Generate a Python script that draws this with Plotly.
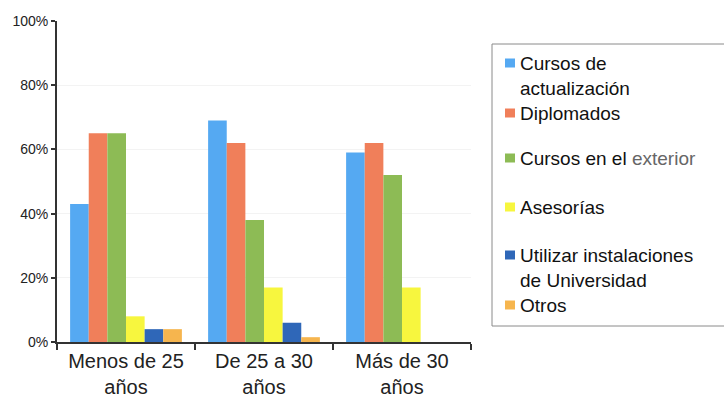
import plotly.graph_objects as go

categories = ["Menos de 25<br>años", "De 25 a 30<br>años", "Más de 30<br>años"]
series_names = [
    "Cursos de actualización",
    "Diplomados",
    "Cursos en el exterior",
    "Asesorías",
    "Utilizar instalaciones de Universidad",
    "Otros",
]
cursos_actualizacion = [43, 69, 59]
diplomados = [65, 62, 62]
cursos_exterior = [65, 38, 52]
asesorias = [8, 17, 17]
instalaciones = [4, 6, 0]
otros = [4, 1.5, 0]
y_ticks = [0, 20, 40, 60, 80, 100]
y_tick_labels = ["0%", "20%", "40%", "60%", "80%", "100%"]

# legend lines as drawn (wrapped), one list per series
legend_lines = [
    ["Cursos de", "actualización"],
    ["Diplomados"],
    ["Cursos en el <span style='color:#666'>exterior</span>"],
    ["Asesorías"],
    ["Utilizar instalaciones", "de Universidad"],
    ["Otros"],
]

colors = ["#55a9f2", "#f07f5a", "#8dbb55", "#f7f63e", "#2f67b8", "#f6b54e"]
values = [cursos_actualizacion, diplomados, cursos_exterior, asesorias, instalaciones, otros]

fig = go.Figure()
for name, vals, col in zip(series_names, values, colors):
    fig.add_trace(go.Bar(x=categories, y=vals, name=name, marker_color=col,
                         marker_line_width=0, showlegend=False))

FONT = "Liberation Sans, Arial, sans-serif"
fig.update_layout(
    width=724, height=413,
    margin=dict(l=57, r=253, t=21, b=71),
    paper_bgcolor="white", plot_bgcolor="white",
    barmode="group", bargap=0.19, bargroupgap=0,
    font=dict(family=FONT, color="#222"),
)
fig.update_yaxes(
    range=[0, 100], tickvals=y_ticks, ticktext=y_tick_labels,
    showline=True, linecolor="#333", linewidth=2,
    ticks="outside", ticklen=4, tickcolor="#333", tickwidth=1.5,
    showgrid=True, gridcolor="#f3f3f3", gridwidth=1,
    tickfont=dict(size=14, color="#222"), zeroline=False,
)
fig.update_xaxes(
    showline=True, linecolor="#333", linewidth=2,
    ticks="outside", ticklen=6, tickcolor="#333", tickwidth=1.5,
    tickson="boundaries", showgrid=False,
    tickfont=dict(size=20, color="#222"),
)

# legend drawn in paper coordinates
PW, PH = 414.0, 321.0
def px(x):
    return (x - 57) / PW
def py(y):
    return (342 - y) / PH

shapes = [dict(type="rect", xref="paper", yref="paper",
               x0=px(492), x1=px(726), y0=py(44), y1=py(326),
               line=dict(color="#8a8a8a", width=1), fillcolor="white", layer="below")]
annotations = []
entry_tops = [63, 113, 158, 207, 255, 305]
line_step = 25
for lines, top, col in zip(legend_lines, entry_tops, colors):
    shapes.append(dict(type="rect", xref="paper", yref="paper",
                       x0=px(505), x1=px(515), y0=py(top + 4.5), y1=py(top - 4.5),
                       line=dict(width=0), fillcolor=col))
    for i, txt in enumerate(lines):
        annotations.append(dict(xref="paper", yref="paper", x=px(518), y=py(top + i * line_step),
                                text=txt, showarrow=False, xanchor="left", yanchor="middle",
                                font=dict(size=19, family=FONT, color="#111")))

fig.update_layout(shapes=shapes, annotations=annotations)
fig.write_html("out.html")
